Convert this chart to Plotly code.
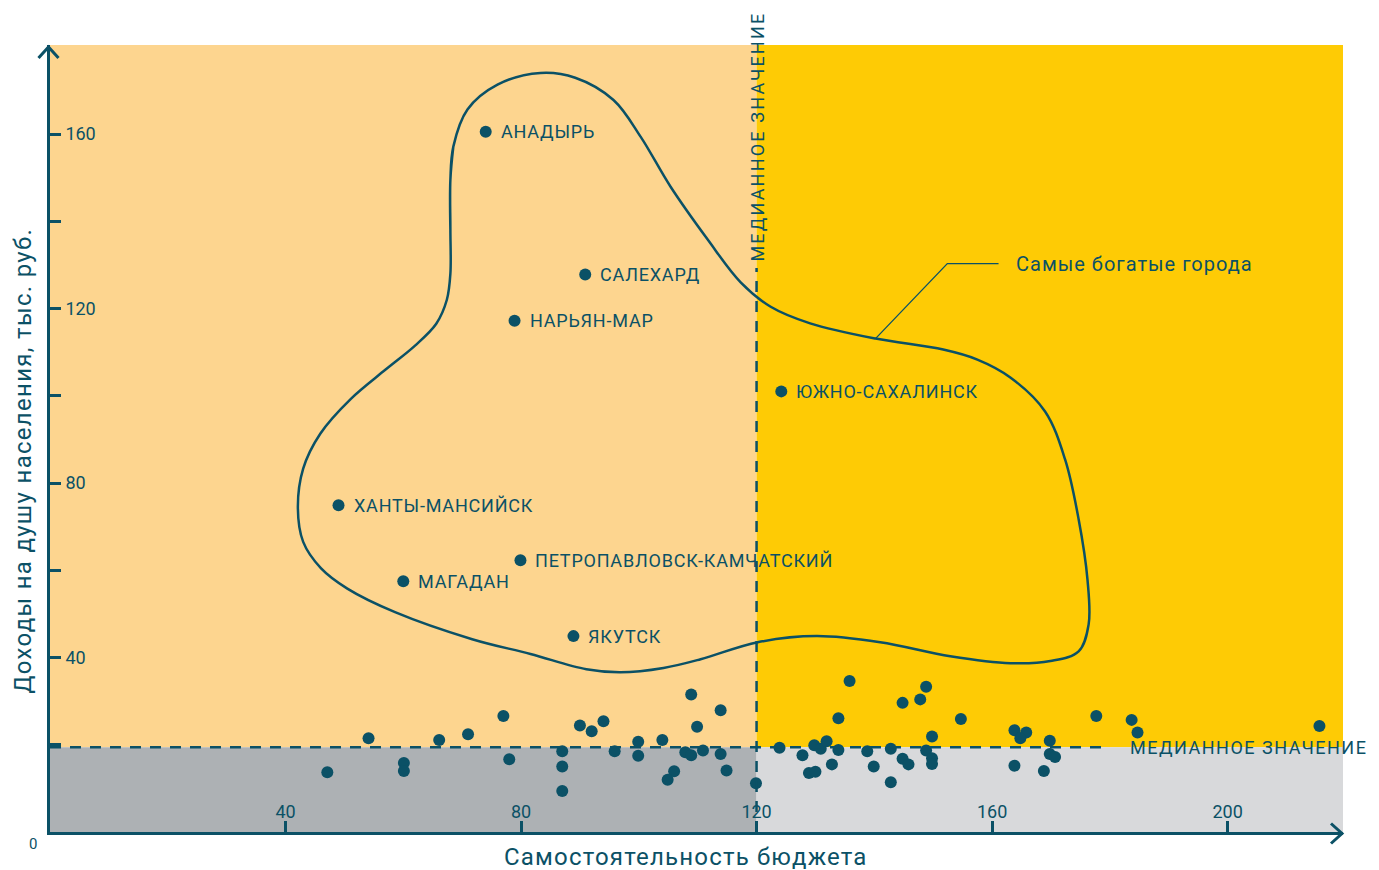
import plotly.graph_objects as go

# ---------------- data ----------------
city_names = ["АНАДЫРЬ", "САЛЕХАРД", "НАРЬЯН-МАР", "ЮЖНО-САХАЛИНСК", "ХАНТЫ-МАНСИЙСК",
              "ПЕТРОПАВЛОВСК-КАМЧАТСКИЙ", "МАГАДАН", "ЯКУТСК"]
city_x = [74.0, 90.9, 78.9, 124.2, 49.0, 79.9, 60.0, 88.9]
city_y = [160.5, 127.8, 117.2, 101.0, 74.9, 62.3, 57.5, 44.9]

other_x = [47.1, 54.1, 60.1, 60.1, 66.1, 71.0, 77.0, 78.0, 87.0, 87.0, 87.0, 90.0, 92.0, 94.0,
           95.9, 99.9, 99.9, 104.0, 106.0, 104.9, 108.9, 107.9, 108.9, 109.9, 110.9, 113.9,
           113.9, 114.9, 119.9, 123.9, 127.8, 128.9, 130.0, 129.8, 130.9, 131.9, 133.9, 133.9,
           132.8, 135.8, 138.8, 139.9, 142.8, 142.8, 144.8, 144.8, 145.8, 147.8, 148.8, 149.8,
           148.8, 149.8, 149.8, 154.7, 163.8, 165.8, 164.8, 169.8, 169.8, 170.7, 163.8, 168.8,
           177.7, 183.7, 184.7, 215.6]
other_y = [13.7, 21.5, 15.8, 14.0, 21.1, 22.4, 26.6, 16.7, 18.5, 15.0, 9.4, 24.4, 23.1, 25.4,
           18.5, 20.7, 17.5, 21.1, 13.9, 12.0, 31.5, 18.3, 17.6, 24.1, 18.7, 27.9,
           17.9, 14.1, 11.2, 19.3, 17.6, 13.5, 13.8, 19.9, 19.1, 20.8, 26.1, 18.8,
           15.5, 34.6, 18.5, 15.0, 19.1, 11.4, 29.6, 16.8, 15.5, 30.4, 33.3, 21.9,
           18.7, 16.9, 15.6, 25.9, 23.3, 22.8, 21.5, 20.9, 17.9, 17.2, 15.2, 14.0,
           26.6, 25.7, 22.8, 24.3]

median_x = 120
median_y = 19.4
x_max = 219.6
y_max = 180.4

# outline of the "richest cities" group (data coordinates)
outline_x = [68.0, 68.0, 68.5, 70.9, 76.0, 83.3, 89.2, 95.7, 100.3, 105.4, 111.7, 117.3, 122.4,
             129.1, 140.2, 151.7, 157.5, 163.1, 169.0, 172.4, 174.7, 176.2, 176.4, 174.7,
             169.9, 163.1, 152.9, 141.0, 130.2, 120.2, 110.5, 104.2, 96.9, 91.1, 81.6, 71.7,
             58.6, 50.5, 46.0, 43.0, 42.1, 43.0, 45.9, 51.1, 57.0, 62.0, 65.6, 67.4, 68.0,
             68.0, 68.0, 68.5]
outline_y = [138.1, 149.5, 157.1, 165.6, 171.3, 174.0, 172.9, 167.8, 159.4, 147.9, 135.8, 126.0,
             120.4, 116.6, 113.1, 110.6, 108.3, 104.2, 96.4, 85.4, 71.7, 57.9, 47.6, 41.4,
             39.2, 38.7, 40.3, 43.5, 44.9, 43.5, 39.6, 37.6, 36.6, 37.3, 40.8, 44.2,
             50.4, 55.8, 60.5, 66.5, 74.2, 83.3, 91.3, 99.3, 106.0, 111.5, 116.5, 122.0, 128.0,
             138.1, 149.5, 157.1]

leader_x = [140.2, 152.4, 161.1]
leader_y = [113.1, 130.3, 130.3]

y_ticks = [20, 40, 60, 80, 100, 120, 140, 160]
y_ticktext = ["", "40", "", "80", "", "120", "", "160"]
x_ticks = [40, 80, 120, 160, 200]
x_ticktext = ["40", "80", "120", "160", "200"]

# ---------------- style ----------------
TEAL = "#0b5166"
ORANGE = "#fdd58f"
YELLOW = "#fecb05"
DGRAY = "#adb1b4"
LGRAY = "#d8d9db"
FONT = "Roboto"


def spaced(text, px):
    return '<span style="letter-spacing:%spx">%s</span>' % (px, text)


fig = go.Figure()

# outline
fig.add_trace(go.Scatter(x=outline_x, y=outline_y, mode="lines",
                         line=dict(color=TEAL, width=2.5, shape="spline", smoothing=1.0),
                         hoverinfo="skip", showlegend=False))
# leader line
fig.add_trace(go.Scatter(x=leader_x, y=leader_y, mode="lines",
                         line=dict(color=TEAL, width=1.3),
                         hoverinfo="skip", showlegend=False))
# points
fig.add_trace(go.Scatter(x=other_x, y=other_y, mode="markers",
                         marker=dict(color=TEAL, size=12, line=dict(width=0)),
                         showlegend=False))
fig.add_trace(go.Scatter(x=city_x, y=city_y, mode="markers",
                         marker=dict(color=TEAL, size=12, line=dict(width=0)),
                         text=city_names, showlegend=False))

shapes = [
    dict(type="rect", xref="x", yref="y", x0=0, x1=median_x, y0=median_y, y1=y_max,
         fillcolor=ORANGE, line_width=0, layer="below"),
    dict(type="rect", xref="x", yref="y", x0=median_x, x1=x_max, y0=median_y, y1=y_max,
         fillcolor=YELLOW, line_width=0, layer="below"),
    dict(type="rect", xref="x", yref="y", x0=0, x1=median_x, y0=0, y1=median_y,
         fillcolor=DGRAY, line_width=0, layer="below"),
    dict(type="rect", xref="x", yref="y", x0=median_x, x1=x_max, y0=0, y1=median_y,
         fillcolor=LGRAY, line_width=0, layer="below"),
    # median lines
    dict(type="line", xref="x", yref="y", x0=0, x1=179.4, y0=median_y, y1=median_y,
         line=dict(color=TEAL, width=2.5, dash="11px,9px"), layer="above"),
    dict(type="line", xref="x", yref="y", x0=median_x, x1=median_x, y0=0, y1=129.3,
         line=dict(color=TEAL, width=2.5, dash="11px,9px"), layer="above"),
    # axis arrowheads
    dict(type="path", xref="paper", yref="paper", xsizemode="pixel", ysizemode="pixel",
         xanchor=0, yanchor=1, path="M -11.5,-13 L -1.5,-2 L 8.5,-13",
         line=dict(color=TEAL, width=3)),
    dict(type="path", xref="paper", yref="paper", xsizemode="pixel", ysizemode="pixel",
         xanchor=1, yanchor=0, path="M -12,8.5 L -1,-1.5 L -12,-11.5",
         line=dict(color=TEAL, width=3)),
]

annotations = []
for name, cx, cy in zip(city_names, city_x, city_y):
    annotations.append(dict(x=cx, y=cy, xref="x", yref="y", text=spaced(name, 0.8),
                            showarrow=False, xanchor="left", yanchor="middle", xshift=13,
                            font=dict(family=FONT, size=18, color=TEAL)))

annotations += [
    dict(x=163.8, y=130.3, xref="x", yref="y", text=spaced("Самые богатые города", 1),
         showarrow=False, xanchor="left", yanchor="middle",
         font=dict(family=FONT, size=20, color=TEAL)),
    dict(x=183.1, y=median_y, xref="x", yref="y", text=spaced("МЕДИАННОЕ ЗНАЧЕНИЕ", 1.5),
         showarrow=False, xanchor="left", yanchor="middle",
         font=dict(family=FONT, size=18, color=TEAL)),
    dict(x=median_x, y=159.3, xref="x", yref="y", text=spaced("МЕДИАННОЕ ЗНАЧЕНИЕ", 2.2),
         showarrow=False, textangle=-90, xanchor="center", yanchor="middle",
         font=dict(family=FONT, size=18, color=TEAL)),
    dict(x=0, y=0, xref="x", yref="y", text="0", showarrow=False, xanchor="center",
         yanchor="middle", xshift=-17, yshift=-12, font=dict(family=FONT, size=15, color=TEAL)),
    dict(x=0.492, y=0, xref="paper", yref="paper", text=spaced("Самостоятельность бюджета", 1.2),
         showarrow=False, xanchor="center", yanchor="middle", yshift=-25,
         font=dict(family=FONT, size=24, color=TEAL)),
    dict(x=0, y=0.5, xref="paper", yref="paper",
         text=spaced("Доходы на душу населения, тыс. руб.", 1.3),
         showarrow=False, xanchor="center", yanchor="middle", xshift=-28, yshift=-22,
         textangle=-90, font=dict(family=FONT, size=24, color=TEAL)),
]

fig.update_layout(
    width=1371, height=862,
    margin=dict(l=42, r=36, t=37, b=38, autoexpand=False),
    paper_bgcolor="white", plot_bgcolor="white",
    shapes=shapes, annotations=annotations,
    showlegend=False,
    font=dict(family=FONT, color=TEAL),
    xaxis=dict(range=[0, x_max], showgrid=False, zeroline=False,
               showline=True, linecolor=TEAL, linewidth=3,
               ticks="inside", ticklen=11, tickwidth=3, tickcolor=TEAL,
               tickvals=x_ticks, ticktext=x_ticktext, ticklabelposition="inside",
               tickfont=dict(family=FONT, size=18, color=TEAL)),
    yaxis=dict(range=[0, y_max], showgrid=False, zeroline=False,
               showline=True, linecolor=TEAL, linewidth=3,
               ticks="inside", ticklen=11, tickwidth=3, tickcolor=TEAL,
               tickvals=y_ticks, ticktext=y_ticktext, ticklabelposition="inside",
               ticklabelstandoff=5,
               tickfont=dict(family=FONT, size=18, color=TEAL)),
)

fig.write_html("out.html")
